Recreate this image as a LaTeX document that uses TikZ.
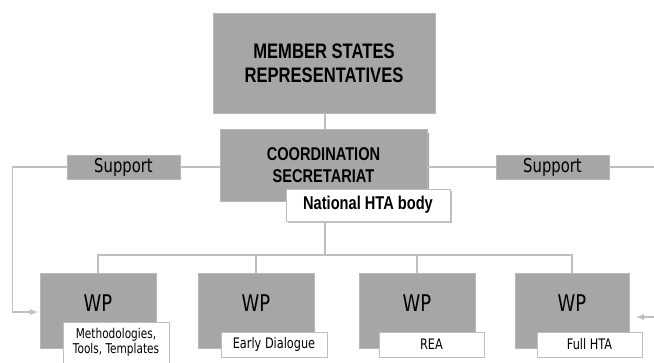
\documentclass[tikz,border=0pt]{standalone}
\usepackage{fontspec}
\setmainfont[FakeStretch=0.79]{Liberation Sans}
\newfontfamily\wpfont[FakeStretch=0.78]{DejaVu Sans}
\usetikzlibrary{positioning,shadows,arrows}
\definecolor{boxgray}{HTML}{A6A6A6}
\definecolor{linegray}{HTML}{BFBFBF}
\tikzset{graybox/.style={fill=boxgray,draw=boxgray!80!white,inner sep=0pt,outer sep=0pt,align=center},
         tagbox/.style={fill=white,draw=linegray,line width=0.8pt,inner sep=0pt,outer sep=0pt,align=center},
         conn/.style={draw=linegray,line width=1.8pt}}

\begin{document}
\begin{tikzpicture}[x=1pt,y=-1pt]
\useasboundingbox (0,0) rectangle (654,362);

\node[graybox,minimum width=222pt,minimum height=100pt,font=\fontsize{21}{24}\selectfont\bfseries] (msr) at (324,63) {MEMBER STATES\\REPRESENTATIVES};
\node[graybox,minimum width=207pt,minimum height=72pt,font=\fontsize{18.5}{22}\selectfont\bfseries,
      drop shadow={shadow xshift=5pt,shadow yshift=-2.5pt,shadow scale=0.97,fill=gray!75,opacity=1}] (coord) at (323.5,165) {COORDINATION\\SECRETARIAT};
\node[tagbox,minimum width=164pt,minimum height=32pt,font=\fontsize{18.5}{22}\selectfont\bfseries,
      drop shadow={shadow xshift=2pt,shadow yshift=-1.5pt,fill=gray!50,opacity=1}] (hta) at (368,205) {National HTA body};

\node[graybox,minimum width=113pt,minimum height=24pt,font=\wpfont\fontsize{19}{21}\selectfont] (supL) at (123.5,167) {Support};
\node[graybox,minimum width=113pt,minimum height=24pt,font=\wpfont\fontsize{19}{21}\selectfont] (supR) at (552.5,167) {Support};

% work packages
\node[graybox,minimum width=116pt,minimum height=75pt] (wp1) at (98,310.5) {};
\node[graybox,minimum width=116pt,minimum height=75pt] (wp2) at (256,310.5) {};
\node[graybox,minimum width=116pt,minimum height=75pt] (wp3) at (417,310.5) {};
\node[graybox,minimum width=114pt,minimum height=75pt] (wp4) at (572,310.5) {};
\foreach \n in {1,2,3,4}
  {\node[font=\wpfont\fontsize{23}{26}\selectfont] (wpt\n) at ([yshift=7pt]wp\n.center) {WP};}

\node[tagbox,minimum width=106pt,minimum height=41pt,font=\wpfont\fontsize{13.5}{15}\selectfont] (tag1) at (116,342.5) {Methodologies,\\Tools, Templates};
\node[tagbox,minimum width=106pt,minimum height=25pt,font=\wpfont\fontsize{14.5}{16}\selectfont] (tag2) at (274,344.5) {Early Dialogue};
\node[tagbox,minimum width=105pt,minimum height=25pt,font=\wpfont\fontsize{14.5}{16}\selectfont] (tag3) at (431.5,344.5) {REA};
\node[tagbox,minimum width=105pt,minimum height=25pt,font=\wpfont\fontsize{14.5}{16}\selectfont] (tag4) at (589.5,344.5) {Full HTA};

\coordinate (lcorner) at (12.5,167);
\coordinate (redge) at (654,167);
\coordinate (rarrow) at (654,317);
\coordinate (bus) at (325,255);

\draw[conn] (msr.south -| bus) -- (coord.north -| bus);
\draw[conn] (supL.east) -- (supL.east -| coord.west);
\draw[conn] (coord.east |- supR) -- (supR.west);
\draw[conn] (supR.east) -- (redge);
\draw[conn,-latex] (supL.west) -- (lcorner) |- ([xshift=-2pt,yshift=-1.5pt]wp1.west);
\draw[conn,-latex,shorten >=7pt] (rarrow) -- (rarrow -| wp4.east);
\draw[conn] (hta.south -| bus) -- (bus);
\draw[conn] (wp1.north) -- (wp1.north |- bus) -- (wp4.north |- bus) -- (wp4.north);
\foreach \n in {2,3}
  {\draw[conn] (wp\n.north |- bus) -- (wp\n.north);}

\end{tikzpicture}
\end{document}
